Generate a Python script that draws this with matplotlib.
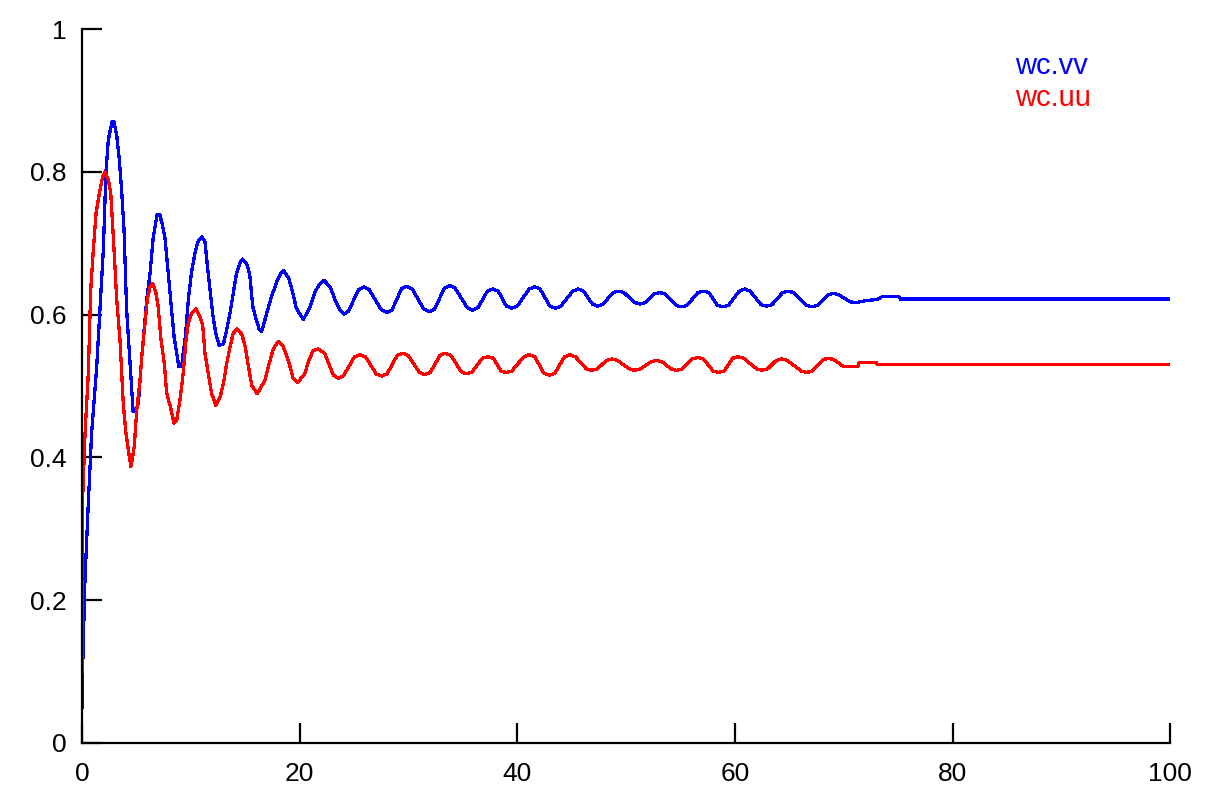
import matplotlib
matplotlib.use("Agg")
import matplotlib.pyplot as plt

plt.rcParams['font.family'] = ['Liberation Sans', 'DejaVu Sans']

# wc.vv (blue)
t_vv = [0.0, 0.05, 0.27, 0.58, 0.89, 1.35, 1.72, 1.96, 2.2, 2.42, 2.75, 2.95, 3.2,
        3.43, 3.65, 3.86, 4.1, 4.48, 4.7, 4.9, 5.18, 5.49, 5.95, 6.25, 6.55, 6.9,
        7.15, 7.4, 7.63, 8.09, 8.46, 8.9, 9.15, 9.3, 9.5, 9.77, 10.05, 10.35, 10.65,
        11.0, 11.3, 11.5, 11.76, 12.0, 12.29, 12.6, 13.0, 13.3, 13.6, 13.9, 14.2,
        14.5, 14.73, 15.1, 15.4, 15.7, 16.0, 16.3, 16.5, 17.4, 17.9, 18.2, 18.5,
        19.0, 19.3, 19.7, 20.34, 20.96, 21.4, 21.9, 22.24, 22.8, 23.25, 23.7, 24.08,
        24.5, 25.4, 25.9, 26.4, 27.5, 28.0, 28.5, 29.35, 29.84, 30.35, 31.4, 31.9,
        32.4, 33.3, 33.8, 34.3, 35.4, 35.9, 36.4, 37.25, 37.75, 38.25, 39.0, 39.5,
        40.0, 41.1, 41.6, 42.1, 43.0, 43.5, 44.0, 45.1, 45.6, 46.1, 46.9, 47.4, 47.9,
        48.8, 49.3, 49.8, 50.8, 51.3, 51.8, 52.6, 53.1, 53.6, 54.6, 55.1, 55.6,
        56.6, 57.1, 57.6, 58.4, 58.9, 59.4, 60.4, 60.9, 61.4, 62.4, 62.9, 63.4,
        64.4, 64.9, 65.4, 66.6, 67.1, 67.6, 68.55, 69.05, 69.55, 70.6, 71.05, 71.5,
        72.1, 73.0, 73.5, 75.1, 75.2, 100.0]
vv = [0.05, 0.10, 0.228, 0.336, 0.436, 0.527, 0.625, 0.691, 0.80, 0.845, 0.870, 0.870, 0.85,
      0.817, 0.772, 0.719, 0.607, 0.515, 0.464, 0.464, 0.476, 0.541, 0.621, 0.658, 0.709, 0.740,
      0.740, 0.725, 0.707, 0.630, 0.569, 0.527, 0.527, 0.546, 0.569, 0.621, 0.658, 0.684, 0.702,
      0.709, 0.702, 0.672, 0.635, 0.602, 0.574, 0.557, 0.559, 0.579, 0.602, 0.630, 0.658,
      0.672, 0.678, 0.672, 0.658, 0.611, 0.593, 0.579, 0.576, 0.625, 0.646, 0.656, 0.662,
      0.651, 0.635, 0.609, 0.593, 0.611, 0.632, 0.644, 0.648, 0.639, 0.621, 0.607, 0.601,
      0.605, 0.635, 0.639, 0.635, 0.607, 0.603, 0.607, 0.636, 0.640, 0.636, 0.608, 0.604,
      0.608, 0.637, 0.641, 0.637, 0.610, 0.606, 0.610, 0.633, 0.636, 0.633, 0.612, 0.609,
      0.612, 0.636, 0.639, 0.636, 0.612, 0.609, 0.612, 0.633, 0.636, 0.633, 0.615, 0.612, 0.615,
      0.631, 0.633, 0.631, 0.617, 0.615, 0.617, 0.629, 0.631, 0.629, 0.613, 0.611, 0.613,
      0.631, 0.633, 0.631, 0.613, 0.611, 0.613, 0.633, 0.636, 0.633, 0.614, 0.612, 0.614,
      0.631, 0.633, 0.631, 0.613, 0.611, 0.613, 0.628, 0.630, 0.628, 0.618, 0.617, 0.618,
      0.620, 0.621, 0.625, 0.625, 0.622, 0.622]

# wc.uu (red)
t_uu = [0.0, 0.02, 0.05, 0.28, 0.58, 0.8, 1.04, 1.29, 1.59, 1.9, 2.11, 2.42, 2.64,
        2.88, 3.19, 3.49, 3.8, 4.04, 4.26, 4.5, 4.8, 5.03, 5.33, 5.49, 5.7, 6.0, 6.25,
        6.5, 6.8, 7.0, 7.26, 7.56, 7.78, 8.09, 8.46, 8.7, 9.0, 9.3, 9.56, 9.77, 10.08,
        10.48, 10.85, 11.1, 11.3, 11.6, 11.9, 12.29, 12.7, 13.0, 13.3, 13.6, 13.9,
        14.27, 14.7, 15.0, 15.3, 15.6, 16.1, 16.8, 17.3, 17.6, 18.04, 18.5, 19.0, 19.4,
        19.82, 20.5, 20.8, 21.26, 21.72, 22.3, 22.6, 23.1, 23.56, 24.0,
        25.05, 25.55, 26.05, 27.04, 27.54, 28.04, 28.97, 29.47, 29.97, 31.0, 31.5, 32.0,
        32.9, 33.4, 33.9, 34.86, 35.36, 35.86, 36.8, 37.3, 37.8, 38.5, 39.0, 39.5,
        40.6, 41.1, 41.6, 42.45, 42.95, 43.45, 44.35, 44.85, 45.35, 46.35, 46.85, 47.35,
        48.2, 48.7, 49.2, 50.3, 50.8, 51.3, 52.3, 52.8, 53.3, 54.15, 54.65, 55.15,
        56.1, 56.6, 57.1, 58.0, 58.5, 59.0, 59.8, 60.3, 60.8, 62.0, 62.5, 63.0,
        63.8, 64.3, 64.8, 66.1, 66.6, 67.1, 68.1, 68.6, 69.1,
        70.0, 71.3, 71.4, 73.0, 73.1, 100.0]
uu = [0.098, 0.32, 0.34, 0.434, 0.518, 0.635, 0.691, 0.742, 0.770, 0.793, 0.80, 0.789, 0.770,
      0.709, 0.621, 0.565, 0.473, 0.434, 0.410, 0.387, 0.415, 0.466, 0.508, 0.541, 0.574, 0.621, 0.639,
      0.644, 0.630, 0.611, 0.565, 0.532, 0.490, 0.473, 0.448, 0.452, 0.480, 0.518, 0.565, 0.588, 0.602,
      0.608, 0.597, 0.584, 0.546, 0.518, 0.490, 0.473, 0.485, 0.504, 0.532, 0.555, 0.574,
      0.580, 0.572, 0.555, 0.527, 0.501, 0.489, 0.508, 0.537, 0.553, 0.563, 0.555, 0.534, 0.511,
      0.505, 0.518, 0.534, 0.550, 0.552, 0.546, 0.534, 0.515, 0.511, 0.514,
      0.541, 0.544, 0.541, 0.517, 0.514, 0.517, 0.543, 0.546, 0.543, 0.519, 0.516, 0.519,
      0.543, 0.546, 0.543, 0.520, 0.517, 0.520, 0.539, 0.541, 0.539, 0.521, 0.519, 0.521,
      0.541, 0.544, 0.541, 0.518, 0.515, 0.518, 0.541, 0.544, 0.541, 0.524, 0.522, 0.524,
      0.536, 0.538, 0.536, 0.524, 0.522, 0.524, 0.534, 0.536, 0.534, 0.524, 0.522, 0.524,
      0.538, 0.540, 0.538, 0.521, 0.519, 0.521, 0.539, 0.541, 0.539, 0.524, 0.522, 0.524,
      0.536, 0.538, 0.536, 0.521, 0.519, 0.521, 0.537, 0.539, 0.537,
      0.527, 0.527, 0.533, 0.533, 0.530, 0.530]

fig = plt.figure(figsize=(12.24, 8.02), dpi=100)
ax = fig.add_axes([0.067, 0.0738, 0.889, 0.8897])

ax.plot(t_vv, vv, color='#0000ff', lw=1.6, antialiased=False)
ax.plot(t_uu, uu, color='#ff0000', lw=1.6, antialiased=False)

ax.set_xlim(0, 100)
ax.set_ylim(0, 1)
ax.set_xticks([0, 20, 40, 60, 80, 100])
ax.set_yticks([0, 0.2, 0.4, 0.6, 0.8, 1])
ax.set_yticklabels(['0', '0.2', '0.4', '0.6', '0.8', '1'])
ax.tick_params(axis='both', direction='in', length=14.5, width=1.6, labelsize=19)
ax.tick_params(axis='x', pad=14)
ax.tick_params(axis='y', pad=11)
for s in ['top', 'right']:
    ax.spines[s].set_visible(False)
for s in ['left', 'bottom']:
    ax.spines[s].set_linewidth(1.6)

# legend as coloured labels
ax.text(85.75, 0.937, 'wc.vv', color='#0000ff', fontsize=21, va='baseline')
ax.text(85.75, 0.893, 'wc.uu', color='#ff0000', fontsize=21, va='baseline')

fig.savefig('out.png', dpi=100)
